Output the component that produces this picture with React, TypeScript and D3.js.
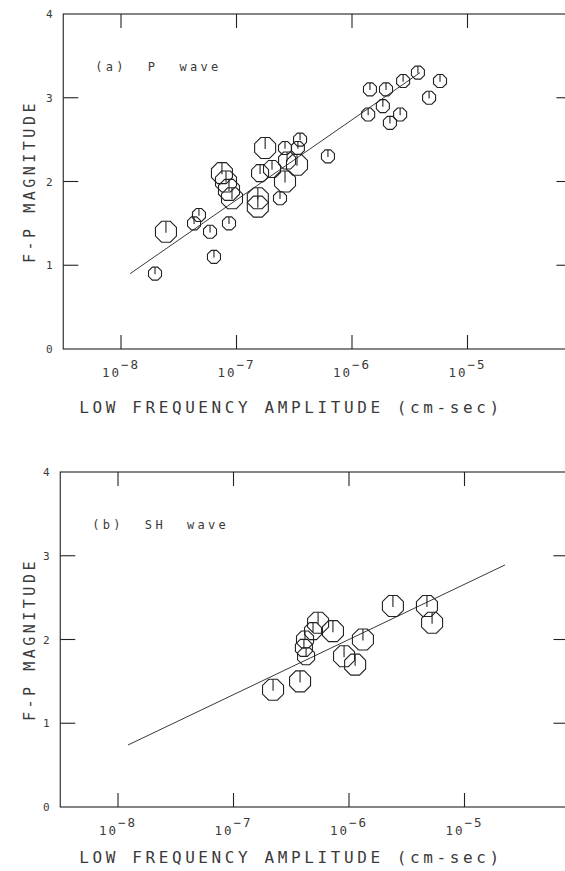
import React, { useEffect, useRef } from 'react';
import * as d3 from 'd3';

// (a) P wave: low frequency amplitude (cm-sec), F-P magnitude, symbol size
const pAmp = [1.97e-8, 2.45e-8, 4.73e-8, 4.29e-8, 5.9e-8, 6.38e-8, 8.61e-8, 7.48e-8, 8.11e-8, 8.61e-8, 9.14e-8,
  1.53e-7, 1.53e-7, 1.77e-7, 1.6e-7, 2.03e-7, 2.63e-7, 2.74e-7, 3.34e-7, 2.63e-7, 2.38e-7, 3.55e-7, 3.4e-7, 6.19e-7,
  1.38e-6, 1.43e-6, 1.97e-6, 1.85e-6, 2.13e-6, 2.61e-6, 2.77e-6, 3.72e-6, 4.65e-6, 5.78e-6];
const pMag = [0.9, 1.4, 1.6, 1.5, 1.4, 1.1, 1.5, 2.1, 2.0, 1.9, 1.8,
  1.8, 1.7, 2.4, 2.1, 2.15, 2.4, 2.25, 2.2, 2.0, 1.8, 2.5, 2.4, 2.3,
  2.8, 3.1, 3.1, 2.9, 2.7, 2.8, 3.2, 3.3, 3.0, 3.2];
const pSize = ['s', 'l', 's', 's', 's', 's', 's', 'l', 'l', 'l', 'l',
  'l', 'l', 'l', 'm', 'm', 's', 'm', 'l', 'l', 's', 's', 's', 's',
  's', 's', 's', 's', 's', 's', 's', 's', 's', 's'];
const pFitAmp = [1.2e-8, 3.88e-6];
const pFitMag = [0.9, 3.3];

// (b) SH wave
const shAmp = [2.2e-7, 3.77e-7, 4.16e-7, 4.07e-7, 4.25e-7, 5.4e-7, 4.88e-7, 7.26e-7, 1.32e-6, 9.06e-7, 1.13e-6,
  2.4e-6, 4.73e-6, 5.24e-6];
const shMag = [1.4, 1.5, 2.0, 1.9, 1.8, 2.2, 2.1, 2.1, 2.0, 1.8, 1.7, 2.4, 2.4, 2.2];
const shSize = ['l', 'l', 'm', 'm', 'm', 'l', 'm', 'l', 'l', 'l', 'l', 'l', 'l', 'l'];
const shFitAmp = [1.22e-8, 2.24e-5];
const shFitMag = [0.74, 2.89];

const xTicks = [1e-8, 1e-7, 1e-6, 1e-5];
const xTickExp = ['8', '7', '6', '5'];
const yTicks = [0, 1, 2, 3, 4];

const FONT = '"DejaVu Sans Mono", monospace';

const App: React.FC = () => {
  const svgRef = useRef<SVGSVGElement>(null);

  useEffect(() => {
    if (!svgRef.current) return;
    const svg = d3.select(svgRef.current);
    svg.selectAll('*').remove();

    const radius = d3.scaleOrdinal<string, number>().domain(['s', 'm', 'l']).range([6.5, 8.5, 10.5]);
    const ink = '#222';
    const textInk = '#3a3a3a';

    const octagon = (cx: number, cy: number, r: number) => {
      const R = r / Math.cos(Math.PI / 8);
      const pts: [number, number][] = d3.range(8).map(k => {
        const a = Math.PI / 8 + (k * Math.PI) / 4;
        return [cx + R * Math.cos(a), cy - R * Math.sin(a)];
      });
      return d3.line().curve(d3.curveLinearClosed)(pts) as string;
    };

    const drawPanel = (opts: {
      top: number; x8: number; label: string; titleY: number;
      amp: number[]; mag: number[]; size: string[];
      fitAmp: number[]; fitMag: number[];
    }) => {
      const x = d3.scaleLog().domain([1e-8, 1e-5]).range([opts.x8, opts.x8 + 3 * 115.5]);
      const y = d3.scaleLinear().domain([0, 4]).range([opts.top + 335, opts.top]);
      const x0 = x(Math.pow(10, -8.5));
      const x1 = x(Math.pow(10, -4.1));
      const g = svg.append('g');

      // frame
      g.append('rect')
        .attr('x', x0).attr('y', y(4))
        .attr('width', x1 - x0).attr('height', y(0) - y(4))
        .attr('fill', 'none').attr('stroke', ink).attr('stroke-width', 1.1);

      // x ticks (top and bottom, inward)
      xTicks.forEach((t, i) => {
        g.append('line').attr('x1', x(t)).attr('x2', x(t))
          .attr('y1', y(0)).attr('y2', y(0) - 14)
          .attr('stroke', ink).attr('stroke-width', 1.1);
        g.append('line').attr('x1', x(t)).attr('x2', x(t))
          .attr('y1', y(4)).attr('y2', y(4) + 14)
          .attr('stroke', ink).attr('stroke-width', 1.1);
        const tx = g.append('text')
          .attr('x', x(t)).attr('y', y(0) + 28)
          .attr('text-anchor', 'middle')
          .attr('font-family', FONT).attr('font-size', 12.5)
          .attr('letter-spacing', 2)
          .attr('fill', textInk);
        tx.append('tspan').text('10');
        tx.append('tspan').attr('dy', -8).text('\u2212' + xTickExp[i]);
      });

      // y ticks (left and right, inward)
      yTicks.forEach(t => {
        if (t > 0 && t < 4) {
          g.append('line').attr('x1', x0).attr('x2', x0 + 15)
            .attr('y1', y(t)).attr('y2', y(t))
            .attr('stroke', ink).attr('stroke-width', 1.1);
          g.append('line').attr('x1', x1 - 15).attr('x2', x1)
            .attr('y1', y(t)).attr('y2', y(t))
            .attr('stroke', ink).attr('stroke-width', 1.1);
        }
        g.append('text')
          .attr('x', x0 - 14).attr('y', y(t) + 4)
          .attr('text-anchor', 'middle')
          .attr('font-family', FONT).attr('font-size', 11)
          .attr('fill', textInk)
          .text(String(t));
      });

      // axis titles
      g.append('text')
        .attr('x', 291).attr('y', opts.titleY)
        .attr('text-anchor', 'middle')
        .attr('font-family', FONT).attr('font-size', 16)
        .attr('letter-spacing', 3.6)
        .attr('fill', textInk)
        .text('LOW FREQUENCY AMPLITUDE (cm-sec)');

      g.append('text')
        .attr('transform', `translate(35,${y(2)}) rotate(-90)`)
        .attr('text-anchor', 'middle')
        .attr('font-family', FONT).attr('font-size', 15)
        .attr('letter-spacing', 3.5)
        .attr('fill', textInk)
        .text('F-P MAGNITUDE');

      g.append('text')
        .attr('x', x0 + 32).attr('y', y(4) + 57)
        .attr('font-family', FONT).attr('font-size', 12)
        .attr('letter-spacing', 3.3)
        .attr('fill', textInk)
        .style('white-space', 'pre')
        .text(opts.label);

      // fit line
      g.append('path')
        .datum(opts.fitAmp.map((a, i) => [a, opts.fitMag[i]] as [number, number]))
        .attr('fill', 'none').attr('stroke', ink).attr('stroke-width', 0.9)
        .attr('d', d3.line<[number, number]>().x(d => x(d[0])).y(d => y(d[1])));

      // symbols
      opts.amp.forEach((a, i) => {
        const cx = x(a);
        const cy = y(opts.mag[i]);
        const r = radius(opts.size[i]);
        g.append('path').attr('d', octagon(cx, cy, r))
          .attr('fill', 'none').attr('stroke', ink).attr('stroke-width', 1.1);
        g.append('line').attr('x1', cx).attr('x2', cx)
          .attr('y1', cy - r).attr('y2', cy + r * 0.1)
          .attr('stroke', ink).attr('stroke-width', 1.1);
      });
    };

    drawPanel({ top: 14, x8: 121, label: '(a)  P  wave', titleY: 413, amp: pAmp, mag: pMag, size: pSize, fitAmp: pFitAmp, fitMag: pFitMag });
    drawPanel({ top: 472, x8: 118, label: '(b)  SH  wave', titleY: 863, amp: shAmp, mag: shMag, size: shSize, fitAmp: shFitAmp, fitMag: shFitMag });
  }, []);

  return (
    <svg ref={svgRef} width={565} height={871}
      style={{ position: 'absolute', left: 0, top: 0, background: '#fff' }} />
  );
};

export default App;
